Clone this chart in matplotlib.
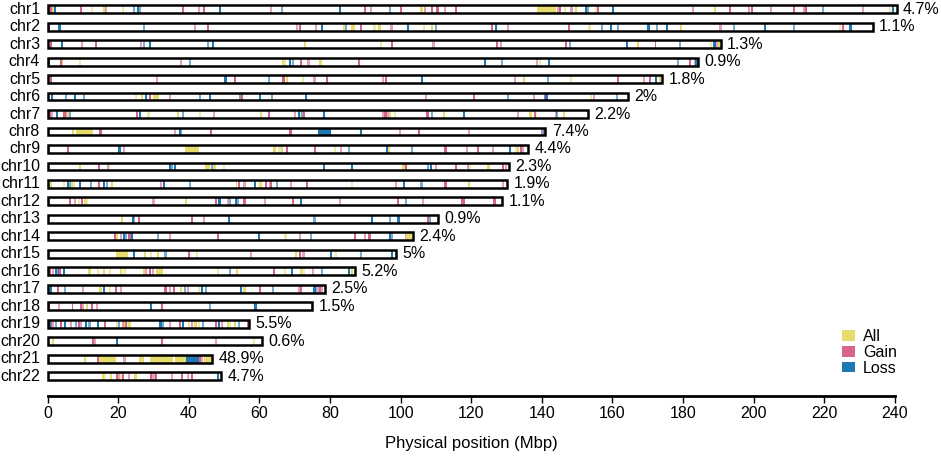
import matplotlib
matplotlib.use('Agg')
import matplotlib.pyplot as plt
from matplotlib.patches import Rectangle, Patch

plt.rcParams['font.family'] = ['Liberation Sans', 'DejaVu Sans']

# chromosome names, lengths (Mbp) and % labels
chroms = ['chr' + str(i) for i in range(1, 23)]
lengths = [240.5, 233.7, 190.6, 184.2, 174.0, 164.4, 153.1, 141.0, 136.1, 130.6, 130.2,
           128.7, 110.6, 103.5, 98.6, 87.0, 78.5, 75.0, 57.2, 60.7, 46.6, 49.2]
pct_labels = ['4.7%', '1.1%', '1.3%', '0.9%', '1.8%', '2%', '2.2%', '7.4%', '4.4%', '2.3%', '1.9%',
              '1.1%', '0.9%', '2.4%', '5%', '5.2%', '2.5%', '1.5%', '5.5%', '0.6%', '48.9%', '4.7%']

# thin marks (Mbp), one list per chromosome
all_pos = [
    [1.5, 12.6, 16.1, 21.3, 105.9, 146.5, 149.6, 155.4, 189.1, 238.7],
    [83.9, 92.6, 94.0, 106.6, 108.9, 153.5, 179.5, 224.4],
    [73.0, 94.5, 167.2, 187.9, 190.1],
    [4.1, 9.1, 66.7, 67.3, 77.3, 139.4],
    [0.3, 72.3, 134.9, 148.3, 173.5],
    [0.1, 25.1, 26.8, 154.0],
    [5.9, 28.6, 36.9, 43.1, 60.5, 71.7, 97.1, 98.3, 112.2, 138.4, 146.2],
    [7.3],
    [0.3, 65.7, 66.5, 81.3, 96.7, 132.6, 133.2],
    [9.3, 17.4, 47.3, 50.0, 100.8, 119.5, 124.9],
    [1.0, 4.6, 7.0, 7.6, 18.3, 59.9, 60.5, 86.3, 119.4],
    [0.3, 8.8, 10.5, 11.1, 39.3],
    [21.1],
    [19.6, 67.4],
    [27.7, 29.4, 31.4, 42.4, 70.3, 81.6],
    [11.9, 14.4, 15.9, 17.8, 20.9, 21.8, 27.3, 48.3, 53.7, 67.3, 71.7, 72.5, 86.2],
    [15.0, 17.8, 37.9, 42.8, 55.8],
    [11.1],
    [0.1, 19.6, 21.8, 22.8, 23.2, 40.0, 41.9, 42.9, 51.1, 51.6, 53.0],
    [1.5, 58.5],
    [10.5],
    [15.7, 16.4, 18.0, 20.7, 24.9],
]
gain_pos = [
    [9.5, 16.6, 38.3, 42.9, 44.2, 63.4, 90.0, 91.5, 100.2, 106.8, 108.9, 112.5, 115.6, 144.6,
     145.2, 148.4, 155.9, 182.8, 193.2, 198.7, 199.5, 204.8, 211.4, 214.2, 214.9, 230.9],
    [0.4, 41.8, 45.4, 70.7, 71.4, 76.1, 88.7, 97.4, 126.0, 130.4, 147.7, 190.6, 225.3],
    [1.0, 9.7, 13.8, 26.5, 97.5, 109.3, 127.4, 128.3, 146.9, 189.6],
    [3.7, 37.9, 71.7, 73.9, 88.2, 138.7, 181.9, 183.3],
    [1.0, 31.0, 53.0, 75.6, 79.2, 95.0, 95.8, 132.5, 161.6, 168.8, 170.5],
    [28.9, 34.7, 55.1, 107.1, 120.7, 137.8, 140.8, 154.7],
    [0.6, 1.2, 4.8, 5.3, 25.4, 47.1, 62.7, 70.0, 72.6, 95.0, 95.7, 96.4, 107.6, 133.2, 138.1, 143.9],
    [15.0, 36.2, 68.8, 99.7, 105.1, 119.3, 140.6],
    [5.8, 21.6, 75.8, 83.2, 112.7, 118.8, 121.9, 126.2, 134.1, 134.6],
    [14.5, 17.1, 101.5, 109.9, 115.8, 119.0, 129.1, 129.8],
    [14.5, 32.2, 54.2, 55.8, 61.9, 62.9, 63.4, 69.0, 73.5, 98.8, 112.7, 129.1],
    [6.4, 7.9, 9.8, 30.0, 47.8, 51.1, 55.8, 61.7, 69.5, 82.9, 99.2, 106.4, 126.6],
    [25.9, 44.2, 107.7],
    [19.0, 20.9, 23.2, 34.7, 48.3, 71.4, 87.0, 90.0, 91.2, 101.4],
    [40.0, 57.7, 71.6, 72.5],
    [0.6, 1.5, 3.4, 27.9, 28.9, 29.8, 64.1, 75.1],
    [2.9, 10.0, 19.5, 20.7, 33.4, 34.8, 35.7, 39.8, 60.1, 71.2, 71.9, 76.6, 77.2, 77.8],
    [0.4, 3.2, 9.5, 10.0, 12.7, 14.0, 32.4, 74.8],
    [1.0, 1.5, 3.9, 6.7, 8.8, 9.5, 16.4, 21.3, 22.3, 34.7, 37.4, 41.0, 47.6, 49.5, 56.8],
    [12.8, 13.5, 32.5, 47.8],
    [14.3, 21.8, 43.3, 43.8],
    [19.7, 20.2, 21.3, 23.0, 29.4, 30.0, 30.8, 35.3, 38.1, 39.8, 41.0],
]
loss_pos = [
    [2.0, 24.6, 25.5, 26.1, 48.9, 66.4, 82.9, 97.1, 152.4, 153.1, 160.2, 219.6, 239.4],
    [3.4, 27.2, 77.7, 84.6, 102.1, 109.9, 126.9, 157.1, 159.7, 161.6, 170.2, 172.6, 175.5,
     194.4, 203.3, 211.3, 227.4],
    [4.1, 27.3, 28.9, 45.4, 46.8, 147.9, 164.1, 179.2, 188.9],
    [0.3, 40.4, 68.6, 69.5, 123.8, 128.8, 141.9, 178.6, 183.8],
    [50.4, 62.7, 106.1, 141.7, 172.2],
    [1.2, 5.3, 7.8, 10.3, 28.0, 43.3, 45.9, 54.4, 60.2, 63.6, 73.1, 130.4, 141.3, 161.3],
    [2.6, 6.4, 26.3, 38.3, 71.1, 72.1, 78.2, 109.0, 117.9, 144.3],
    [37.4, 37.9, 88.7, 140.0],
    [20.4, 85.3, 96.2, 103.3, 130.9],
    [34.8, 35.3, 36.0, 46.6, 86.2, 107.7, 108.5],
    [5.8, 6.4, 9.3, 12.2, 15.9, 16.8, 32.9, 40.4, 58.8, 65.1, 101.0, 105.9],
    [48.7, 51.6, 53.4, 53.9, 71.9, 101.5],
    [24.2, 24.6, 51.4, 75.6, 91.9, 96.9, 99.4, 108.3],
    [21.6, 22.1, 24.0, 31.4, 59.9, 74.5, 97.1, 97.6],
    [24.5, 33.4, 80.2, 88.9, 97.6],
    [2.3, 2.9, 4.6, 51.7, 69.2, 77.7, 85.3],
    [1.0, 5.0, 16.1, 39.0, 43.8, 44.9, 54.7, 63.8, 75.6, 76.1],
    [29.4, 46.1, 58.9],
    [0.6, 2.5, 5.0, 8.1, 11.0, 11.9, 14.4, 20.2, 32.0, 32.6, 38.3, 44.1, 48.6, 54.2],
    [19.6],
    [],
    [48.3],
]

# wider segments: (chromosome index, start, end)
all_blocks = [(0, 138.5, 144.1), (1, 86.0, 87.0), (4, 67.4, 68.1), (5, 29.8, 31.7),
              (6, 136.3, 137.2), (7, 8.1, 13.0), (8, 38.8, 42.8), (8, 63.8, 64.8),
              (9, 44.5, 45.9), (10, 53.3, 53.8), (13, 101.6, 103.2), (14, 19.3, 22.8),
              (15, 30.8, 32.7), (20, 14.7, 19.5), (20, 25.9, 27.3), (20, 28.9, 35.5),
              (20, 36.0, 39.1), (20, 44.2, 46.4)]
gain_blocks = [(0, 0.5, 1.3), (0, 110.1, 110.9), (2, 171.9, 172.4), (4, 66.5, 67.3),
               (7, 46.1, 46.6), (8, 67.4, 68.2), (11, 117.2, 118.1), (12, 40.7, 41.2),
               (17, 7.0, 7.3)]
loss_blocks = [(7, 76.6, 80.2), (9, 78.0, 78.5), (20, 39.3, 42.9)]

colors = {'All': '#e6dc6e', 'Gain': '#d6648f', 'Loss': '#1f78b4'}
line_w = 0.6
bar_h = 0.45

fig = plt.figure(figsize=(9.41, 4.61), dpi=100)
ax = fig.add_axes([0.0505, 0.141, 0.9006, 0.859])

for i, name in enumerate(chroms):
    ax.add_patch(Rectangle((0, i - bar_h / 2), lengths[i], bar_h, facecolor='white',
                           edgecolor='none', zorder=1))
    for pos_list, key in [(all_pos, 'All'), (gain_pos, 'Gain'), (loss_pos, 'Loss')]:
        for j, p in enumerate(pos_list[i]):
            a = 1.0 if j % 2 == 0 else 0.6
            ax.broken_barh([(p - line_w / 2, line_w)], (i - bar_h / 2, bar_h),
                           facecolors=colors[key], alpha=a, zorder=2)
    ax.add_patch(Rectangle((0, i - bar_h / 2), lengths[i], bar_h, facecolor='none',
                           edgecolor='black', linewidth=1.8, zorder=4, clip_on=False))
    ax.text(-2.1, i, name, ha='right', va='center', fontsize=11.5)
    ax.text(lengths[i] + 1.8, i, pct_labels[i], ha='left', va='center', fontsize=11.5)

for blocks, key in [(all_blocks, 'All'), (gain_blocks, 'Gain'), (loss_blocks, 'Loss')]:
    for c, s, e in blocks:
        ax.broken_barh([(s, e - s)], (c - bar_h / 2, bar_h), facecolors=colors[key], zorder=3)

ax.set_xlim(0, 240)
ax.set_ylim(22.14, -0.527)
for sp in ['top', 'right', 'left']:
    ax.spines[sp].set_visible(False)
ax.spines['bottom'].set_linewidth(2)
ax.set_yticks([])
ax.set_xticks(range(0, 241, 20))
ax.tick_params(axis='x', length=5, width=1, pad=2, labelsize=11.5)
ax.set_xlabel('Physical position (Mbp)', fontsize=12, labelpad=11)

handles = [Patch(facecolor=colors[k], edgecolor='none', label=k) for k in ['All', 'Gain', 'Loss']]
ax.legend(handles=handles, loc='upper left', bbox_to_anchor=(0.937, 0.169), frameon=False,
          fontsize=11.5, handlelength=0.85, handleheight=0.65, handletextpad=0.5,
          labelspacing=0.05, borderpad=0, borderaxespad=0)

fig.savefig('out.png', dpi=100)
